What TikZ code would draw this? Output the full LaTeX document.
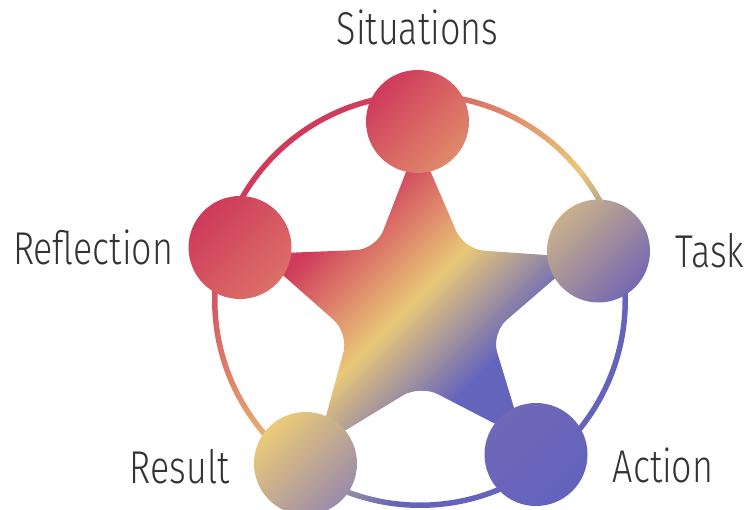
\documentclass[tikz,border=0pt]{standalone}
\usepackage{fontspec}
\newfontfamily\lblfont{Fira Sans Light}[FakeStretch=0.78]
\usetikzlibrary{positioning,calc,backgrounds}

\definecolor{fivered}{HTML}{D03A5C}
\definecolor{fiveyellow}{HTML}{E9C878}
\definecolor{fiveblue}{HTML}{6464BC}
\definecolor{lbltext}{HTML}{333333}
\definecolor{sitA}{HTML}{CF3A5C}
\definecolor{sitB}{HTML}{E08A6B}
\definecolor{taskA}{HTML}{C9B08C}
\definecolor{taskB}{HTML}{7568B0}
\definecolor{actA}{HTML}{7068B8}
\definecolor{actB}{HTML}{6262BC}
\definecolor{resA}{HTML}{EBCB78}
\definecolor{resB}{HTML}{9B8BA9}
\definecolor{refA}{HTML}{CE3A5A}
\definecolor{refB}{HTML}{DC7068}

\pgfdeclarehorizontalshading{ringshade}{100bp}{color(0bp)=(fivered); color(27bp)=(fivered); color(52.6bp)=(fiveyellow); color(65.3bp)=(fiveblue); color(100bp)=(fiveblue)}
\pgfdeclarehorizontalshading{starshade}{100bp}{color(0bp)=(fivered); color(31.3bp)=(fivered); color(49.9bp)=(fiveyellow); color(66.7bp)=(fiveblue); color(100bp)=(fiveblue)}

\begin{document}
\begin{tikzpicture}[x=1pt, y=1pt]
    \tikzstyle{stage}=[circle, minimum size=103pt, inner sep=0pt, shading angle=45]
    \tikzstyle{lbl}=[font=\lblfont\fontsize{46}{52}\selectfont, text=lbltext, inner sep=0pt]

    \useasboundingbox (0,0) rectangle (751,510);
    \coordinate (ctr) at (420,200);
    \coordinate (ringc) at (420,210);

    % the five stages
    \foreach \name/\x/\y/\ca/\cb in {sit/417.5/388.5/sitA/sitB, task/598.5/259/taskA/taskB,
        action/536/55.5/actA/actB, result/305.5/46.5/resA/resB, refl/240/262.5/refA/refB}
        \node[top color=\ca, bottom color=\cb, stage] (\name) at (\x,\y) {};

    \begin{pgfonlayer}{background}
    % outer ring
    \shade[shading=ringshade, shading angle=-45, even odd rule]
        (ringc) circle[radius=208] (ringc) circle[radius=202.5];
    % star joining the stages
    \shade[shading=starshade, shading angle=-45, rounded corners=20pt] ($(ctr)+(126:75)$)
        foreach \a/\n in {90/sit, 18/task, -54/action, -126/result} {
            -- ($(\n.center)!30pt!(ctr)!4pt!-90:(ctr)$)
            -- ($(\n.center)!30pt!(ctr)!4pt!90:(ctr)$)
            -- ($(ctr)+({\a-36}:75)$)
        }
        -- ($(refl.center)!30pt!(ctr)!4pt!-90:(ctr)$)
        -- ($(refl.center)!30pt!(ctr)!4pt!90:(ctr)$) -- cycle;
    \end{pgfonlayer}

    % Annotate the stages
    \node[lbl, above=25pt of sit, anchor=base] {Situations};
    \node[lbl, right=25pt of task] {Task};
    \node[lbl, right=25pt of action, yshift=-11pt] {Action};
    \node[lbl, left=24pt of result, yshift=-3pt] {Result};
    \node[lbl, left=15pt of refl] {Reflection};
\end{tikzpicture}
\end{document}
